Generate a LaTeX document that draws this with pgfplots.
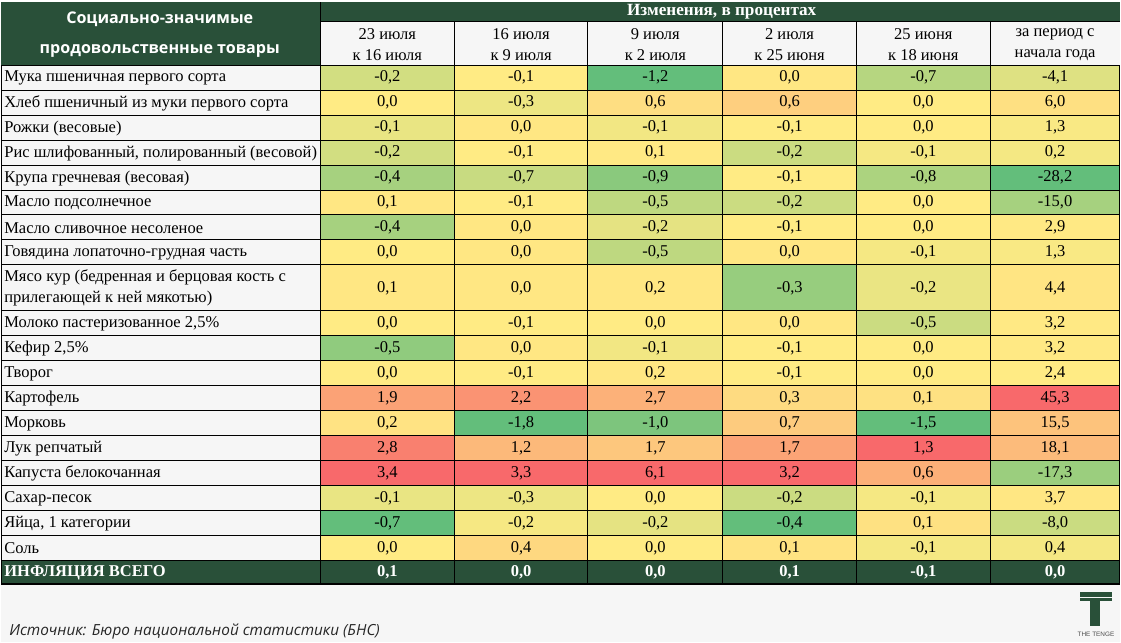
\documentclass[border=0pt]{standalone}
\usepackage{pgfplots}
\pgfplotsset{compat=1.18}
\usepackage{pgfplotstable}
\usepackage{fontspec}
\setmainfont{Liberation Serif}
\newfontfamily\hsans{Open Sans}
\newfontfamily\lsans{Liberation Sans}
\definecolor{dkgreen}{RGB}{41,80,57}
\definecolor{bgc}{RGB}{246,246,246}
\newcommand\valfont{\fontsize{12.4}{14}\selectfont}
\tikzset{lab/.style={anchor=west, font=\valfont, inner sep=0pt, text=black}}

\pgfdeclareplotmark{cell}{%
  \pgfpathrectangle{\pgfpoint{-0.375pt*\cellw}{-0.375pt*\cellh}}{\pgfpoint{0.75pt*\cellw}{0.75pt*\cellh}}%
  \pgfusepathqfillstroke}
\pgfdeclareplotmark{cellrgb}{%
  \definecolor{cellc}{rgb}{\cellr,\cellg,\cellb}%
  \pgfsetfillcolor{cellc}\pgfsetstrokecolor{black}%
  \pgfpathrectangle{\pgfpoint{-0.375pt*\cellw}{-0.375pt*\cellh}}{\pgfpoint{0.75pt*\cellw}{0.75pt*\cellh}}%
  \pgfusepathqfillstroke}

\pgfplotstableread{
y h c1 c2 c3 c4 c5 c6
75.5 25 -0.2 -0.1 -1.2 0.0 -0.7 -4.1
100.5 25 0.0 -0.3 0.6 0.6 0.0 6.0
125.5 25 -0.1 0.0 -0.1 -0.1 0.0 1.3
150.5 25 -0.2 -0.1 0.1 -0.2 -0.1 0.2
175.5 25 -0.4 -0.7 -0.9 -0.1 -0.8 -28.2
200.5 25 0.1 -0.1 -0.5 -0.2 0.0 -15.0
225.5 25 -0.4 0.0 -0.2 -0.1 0.0 2.9
250.5 25 0.0 0.0 -0.5 0.0 -0.1 1.3
286 46 0.1 0.0 0.2 -0.3 -0.2 4.4
321.5 25 0.0 -0.1 0.0 0.0 -0.5 3.2
346.5 25 -0.5 0.0 -0.1 -0.1 0.0 3.2
371.5 25 0.0 -0.1 0.2 -0.1 0.0 2.4
396.5 25 1.9 2.2 2.7 0.3 0.1 45.3
421.5 25 0.2 -1.8 -1.0 0.7 -1.5 15.5
446.5 25 2.8 1.2 1.7 1.7 1.3 18.1
471.5 25 3.4 3.3 6.1 3.2 0.6 -17.3
496.5 25 -0.1 -0.3 0.0 -0.2 -0.1 3.7
521.5 25 -0.7 -0.2 -0.2 -0.4 0.1 -8.0
546.5 25 0.0 0.4 0.0 0.1 -0.1 0.4
}\datatab

\pgfplotstableread{
x w v
387 134 0.1
521 134 0.0
655.5 135 0.0
790 134 0.1
924 134 -0.1
1056 130 0.0
}\totaltab

% 3-colour scale per column: #1 column, #2 centre x, #3 min, #4 median, #5 max, #6 width (px)
\newcommand\cellcol[6]{%
\addplot[only marks, mark=cellrgb, line width=0.75pt,
  visualization depends on={\thisrow{h} \as \cellh},
  visualization depends on={#6 \as \cellw},
  visualization depends on={\thisrow{#1} \as \val},
  visualization depends on={ifthenelse(\thisrow{#1}<(#4), (99+156*(\thisrow{#1}-(#3))/((#4)-(#3)))/255, (255-7*(\thisrow{#1}-(#4))/((#5)-(#4)))/255) \as \cellr},
  visualization depends on={ifthenelse(\thisrow{#1}<(#4), (190+45*(\thisrow{#1}-(#3))/((#4)-(#3)))/255, (235-130*(\thisrow{#1}-(#4))/((#5)-(#4)))/255) \as \cellg},
  visualization depends on={ifthenelse(\thisrow{#1}<(#4), (123+9*(\thisrow{#1}-(#3))/((#4)-(#3)))/255, (132-25*(\thisrow{#1}-(#4))/((#5)-(#4)))/255) \as \cellb},
  nodes near coords={\pgfmathprintnumber{\val}},
  every node near coord/.append style={anchor=center, font=\valfont, text=black, inner sep=0pt},
] table[x expr=#2, y=y] {\datatab};}

\newcommand\colhead[3]{\node[font=\fontsize{12.4}{15.75}\selectfont, align=center, text=black] at (#1,42) {#2\\#3};}

\begin{document}
\begin{tikzpicture}
\begin{axis}[
  x=0.75pt, y=0.75pt, xmin=0, xmax=1121, ymin=0, ymax=641, y dir=reverse,
  hide axis, clip=false, clip mode=individual, scale only axis,
  /pgf/number format/.cd, fixed, fixed zerofill, precision=1, use comma, assume math mode=true,
]
% background
\fill[bgc] (0,0) rectangle (1121,641);
% header
\fill[dkgreen] (0,0) rectangle (320,63);
\fill[dkgreen] (320,0) rectangle (1121,19);
\pgfplotsinvokeforeach{320,454,588,723,857,991}{\draw[line width=0.75pt] (#1,19) -- (#1,63);}
\draw[line width=0.75pt] (320,0) -- (320,19);
\draw[line width=0.75pt] (320,19) -- (1121,19);
\node[font=\hsans\bfseries\fontsize{12.1}{22.5}\selectfont, text=white, align=center] at (159,32) {Социально-значимые\\продовольственные товары};
\node[font=\bfseries\fontsize{12.9}{13}\selectfont, text=white] at (722,9.5) {Изменения, в процентах};
\colhead{387}{23 июля}{к 16 июля}
\colhead{521}{16 июля}{к 9 июля}
\colhead{655.5}{9 июля}{к 2 июля}
\colhead{790}{2 июля}{к 25 июня}
\colhead{924}{25 июня}{к 18 июня}
\colhead{1056}{за период с}{начала года}
% label column cells
\addplot[only marks, mark=cell, line width=0.75pt, mark options={fill=bgc, draw=black},
  visualization depends on={\thisrow{h} \as \cellh},
  visualization depends on={320 \as \cellw}] table[x expr=160, y=y] {\datatab};
% value cells
\cellcol{c1}{387}{-0.7}{0.0}{3.4}{134}
\cellcol{c2}{521}{-1.8}{-0.1}{3.3}{134}
\cellcol{c3}{655.5}{-1.2}{0.0}{6.1}{135}
\cellcol{c4}{790}{-0.4}{-0.1}{3.2}{134}
\cellcol{c5}{924}{-1.5}{0.0}{1.3}{134}
\cellcol{c6}{1056}{-28.2}{2.4}{45.3}{130}
% total row
\addplot[only marks, mark=cell, line width=0.75pt, mark options={fill=dkgreen, draw=black},
  visualization depends on={24 \as \cellh},
  visualization depends on={320 \as \cellw}] coordinates {(160,571)};
\addplot[only marks, mark=cell, line width=0.75pt, mark options={fill=dkgreen, draw=black},
  visualization depends on={24 \as \cellh},
  visualization depends on={\thisrow{w} \as \cellw},
  visualization depends on={\thisrow{v} \as \val},
  nodes near coords={\pgfmathprintnumber{\val}},
  every node near coord/.append style={anchor=center, font=\bfseries\valfont, text=white, inner sep=0pt},
] table[x=x, y expr=571] {\totaltab};
\draw[line width=1.6pt] (0,583) -- (1121,583);
% row labels
\node[lab] at (3,76) {Мука пшеничная первого сорта};
\node[lab] at (3,101) {Хлеб пшеничный из муки первого сорта};
\node[lab] at (3,126) {Рожки (весовые)};
\node[lab] at (3,151) {Рис шлифованный, полированный (весовой)};
\node[lab] at (3,176) {Крупа гречневая (весовая)};
\node[lab] at (3,201) {Масло подсолнечное};
\node[lab] at (3,226) {Масло сливочное несоленое};
\node[lab] at (3,251) {Говядина лопаточно-грудная часть};
\node[lab, align=left, font=\fontsize{12.4}{16.5}\selectfont] at (3,286) {Мясо кур (бедренная и берцовая кость с\\прилегающей к ней мякотью)};
\node[lab] at (3,322) {Молоко пастеризованное 2,5\%};
\node[lab] at (3,347) {Кефир 2,5\%};
\node[lab] at (3,372) {Творог};
\node[lab] at (3,397) {Картофель};
\node[lab] at (3,422) {Морковь};
\node[lab] at (3,447) {Лук репчатый};
\node[lab] at (3,472) {Капуста белокочанная};
\node[lab] at (3,497) {Сахар-песок};
\node[lab] at (3,522) {Яйца, 1 категории};
\node[lab] at (3,547) {Соль};
\node[lab, text=white, font=\bfseries\valfont] at (3,571.5) {ИНФЛЯЦИЯ ВСЕГО};
% footer
\node[anchor=west, inner sep=0pt, font=\hsans\itshape\fontsize{11.5}{13}\selectfont, text=black!85] at (8,630) {Источник: Бюро национальной статистики (БНС)};
% logo
\fill[dkgreen] (1081,591) rectangle (1113,595.5);
\fill[dkgreen] (1081,596.5) rectangle (1113,599.5);
\fill[dkgreen] (1091,599.5) rectangle (1095.5,625);
\fill[dkgreen] (1096.5,599.5) rectangle (1101,625);
\node[font=\lsans\fontsize{4.8}{5}\selectfont, text=black!70] at (1097,633.5) {THE TENGE};
\end{axis}
\end{tikzpicture}
\end{document}
